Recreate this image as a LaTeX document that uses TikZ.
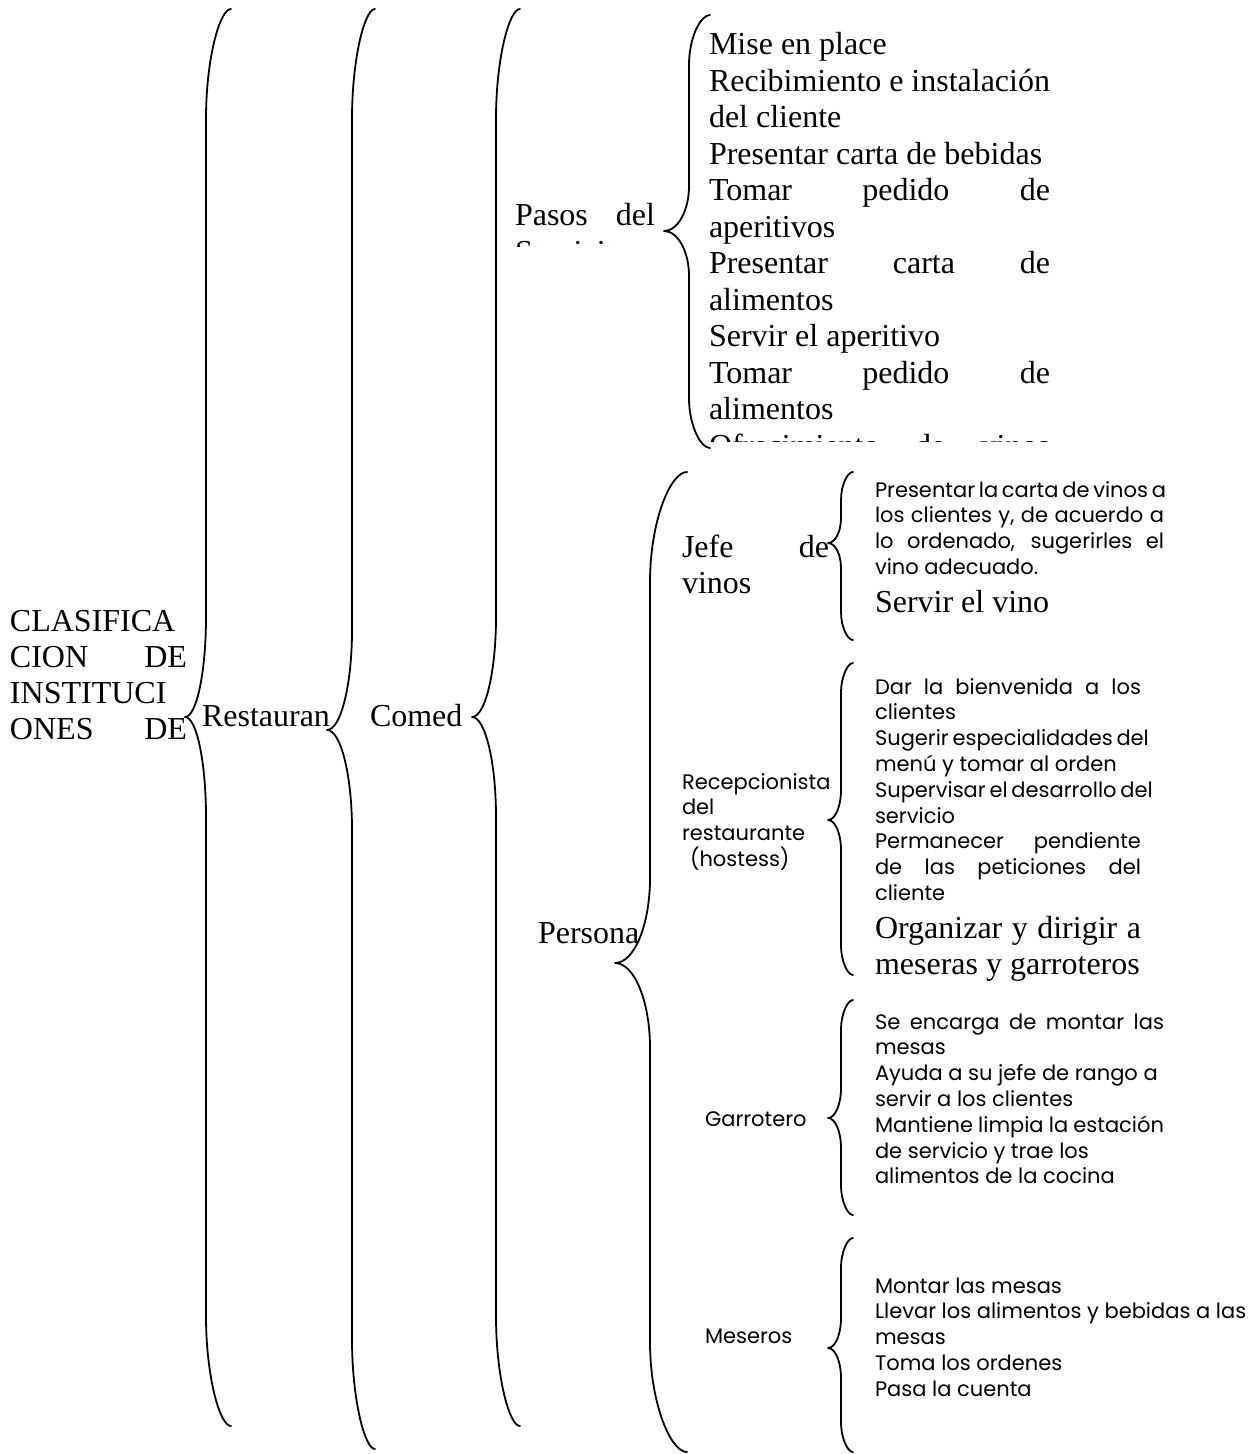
\documentclass[tikz,border=0pt]{standalone}
\usepackage{fontspec}
\setmainfont{Liberation Serif}
\newfontfamily\gothic{Poppins}
\newlength{\px}\setlength{\px}{0.5pt}
% a line stretched to the full measure of its block
\newcommand{\sline}[1]{\makebox[\hsize][s]{#1}}
% a text block whose baseline is the baseline of its first line
\newcommand{\tblock}[2]{\vtop{\hsize=#1\px\parindent=0pt\rightskip=0pt plus 1fil\parfillskip=0pt plus 1fil #2\par}}
% left curly brace: end x, stem x, tip x, top y, tip y, bottom y, end radius, tip radius
\newcommand{\wbrace}[8]{%
  \draw[brace] (#1,#4) .. controls ({#2+0.55*(#1-#2)},#4) and (#2,{#4+0.45*#7}) .. (#2,{#4+#7})
    -- (#2,{#5-#8}) .. controls (#2,{#5-0.45*#8}) and ({#3+0.55*(#2-#3)},#5) .. (#3,#5)
    .. controls ({#3+0.55*(#2-#3)},#5) and (#2,{#5+0.45*#8}) .. (#2,{#5+#8})
    -- (#2,{#6-#7}) .. controls (#2,{#6-0.45*#7}) and ({#2+0.55*(#1-#2)},#6) .. (#1,#6);}
\begin{document}
\begin{tikzpicture}[x=0.5pt,y=-0.5pt,
  brace/.style={line width=0.9pt, line cap=round, line join=round},
  txt/.style={anchor=base west, inner sep=0pt, outer sep=0pt},
  rm/.style={txt, font=\fontsize{16pt}{18.1pt}\selectfont},
  rmlist/.style={txt, font=\fontsize{16pt}{18.25pt}\selectfont},
  sf/.style={txt, font=\gothic\fontsize{10.5pt}{12.9pt}\selectfont}]

\useasboundingbox[fill=white] (0,0) rectangle (1255,1454);

% ---- braces ----
\wbrace{231}{206}{185}{9}{717}{1426}{110}{100}
\wbrace{375}{352}{327}{9}{730}{1449}{110}{100}
\wbrace{520}{496}{472}{9}{717}{1426}{110}{100}
\wbrace{710}{689}{664}{15}{231}{448}{50}{45}
\wbrace{687}{650}{615}{472}{963}{1452}{110}{85}
\wbrace{853}{841}{828}{472}{543}{640}{28}{25}
\wbrace{853}{841}{828}{663}{820}{975}{30}{30}
\wbrace{853}{841}{828}{1000}{1118}{1215}{30}{30}
\wbrace{853}{841}{828}{1238}{1348}{1452}{30}{30}

% ---- first levels ----
\node[rm] (clasif) at (10,631) {\tblock{177}{CLASIFICA\\\sline{CION DE}\\INSTITUCI\\\sline{ONES DE}}};
\node[rm] (rest) at (202,726) {Restauran};
\node[rm] (comed) at (370,726) {Comed};
\node[rm] (persona) at (538,943) {Persona};

% ---- service steps ----
\begin{scope}
  \clip (505,150) rectangle (665,247);
  \node[rm] (pasos) at (515,226) {\tblock{140}{\sline{Pasos del}\\Servicio}};
\end{scope}
\begin{scope}
  \clip (700,0) rectangle (1070,441);
  \node[rmlist] (pasos-list) at (709,55) {\tblock{341}{Mise en place\\
    \sline{Recibimiento e instalación}\\
    del cliente\\
    Presentar carta de bebidas\\
    \sline{Tomar pedido de}\\
    aperitivos\\
    \sline{Presentar carta de}\\
    alimentos\\
    Servir el aperitivo\\
    \sline{Tomar pedido de}\\
    alimentos\\
    \sline{Ofrecimiento de vinos}}};
\end{scope}

% ---- staff ----
\node[rm] (jefe) at (682,557) {\tblock{147}{\sline{Jefe de}\\vinos}};
\node[sf] (jefe-list) at (875,497) {\tblock{289}{\sline{Presentar la carta de vinos a}\\
  \sline{los clientes y, de acuerdo a}\\
  \sline{lo ordenado, sugerirles el}\\
  vino adecuado.}};
\node[rm] (jefe-extra) at (875,612) {Servir el vino};

\node[sf] (recep) at (682,789) {\tblock{160}{Recepcionista\\del\\restaurante\\\hspace*{8\px}(hostess)}};
\node[sf] (recep-list) at (875,694) {\tblock{266}{\sline{Dar la bienvenida a los}\\
  clientes\\
  \sline{Sugerir especialidades del}\\
  menú y tomar al orden\\
  \sline{Supervisar el desarrollo del}\\
  servicio\\
  \sline{Permanecer pendiente}\\
  \sline{de las peticiones del}\\
  cliente}};
\node[rm] (recep-extra) at (875,938) {\tblock{266}{\sline{Organizar y dirigir a}\\meseras y garroteros}};

\node[sf] (garr) at (705,1126) {Garrotero};
\node[sf] (garr-list) at (875,1029) {\tblock{289}{\sline{Se encarga de montar las}\\
  mesas\\
  Ayuda a su jefe de rango a\\
  servir a los clientes\\
  Mantiene limpia la estación\\
  de servicio y trae los\\
  alimentos de la cocina}};

\node[sf] (mes) at (705,1343) {Meseros};
\node[sf] (mes-list) at (875,1293) {\tblock{380}{Montar las mesas\\
  Llevar los alimentos y bebidas a las\\
  mesas\\
  Toma los ordenes\\
  Pasa la cuenta}};
\end{tikzpicture}
\end{document}
